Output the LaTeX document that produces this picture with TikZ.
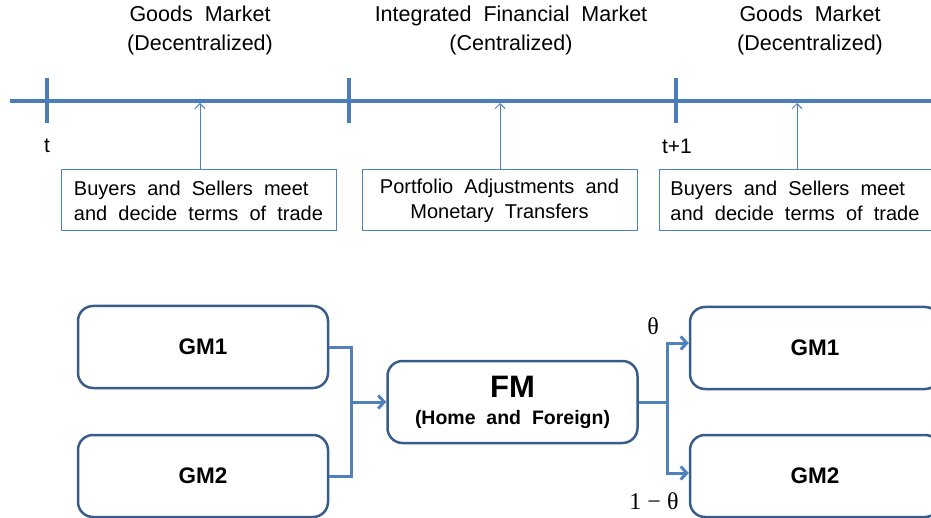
\documentclass[tikz,border=0pt]{standalone}
\usepackage{fontspec}
\setmainfont[WordSpace=2]{Liberation Sans}
\newfontfamily\grfont{Liberation Serif}
\usetikzlibrary{arrows.meta}
\definecolor{lineblue}{HTML}{4A7EBB}
\definecolor{boxblue}{HTML}{385D8A}
\definecolor{linkblue}{HTML}{4F81BD}

\tikzset{
  timetick/.style={draw=lineblue,line width=4pt},
  notebox/.style={draw=linkblue,line width=1pt,minimum height=61pt,align=center,
    font=\fontsize{20}{25}\selectfont,inner sep=0pt},
  mktbox/.style={draw=boxblue,line width=2.5pt,rounded corners=15pt,minimum width=250pt,
    minimum height=82pt,align=center,font=\bfseries\fontsize{22.5}{25}\selectfont},
  thinarrow/.style={draw=linkblue,line width=1pt,-{Straight Barb[length=5pt,width=10pt]}},
  link/.style={draw=linkblue,line width=3pt},
}

\begin{document}
\begin{tikzpicture}[x=1pt,y=-1pt]
      \clip (0,0) rectangle (931,518);

      \node[align=center,font=\fontsize{21.5}{29}\selectfont] (hdr1) at (200,30) {Goods Market\\(Decentralized)};
      \node[align=center,font=\fontsize{21.5}{29}\selectfont] (hdr2) at (511,30) {Integrated Financial Market\\(Centralized)};
      \node[align=center,font=\fontsize{21.5}{29}\selectfont] (hdr3) at (810,30) {Goods Market\\(Decentralized)};

      \draw[timetick] (10,101) -- (931,101);
      \foreach \x in {47,349,676}
        \draw[timetick] (\x,78) -- (\x,123);
      \node[font=\fontsize{21}{24}\selectfont] (tnow) at (47,146) {t};
      \node[font=\fontsize{21}{24}\selectfont] (tnext) at (677,146) {t+1};

      \coordinate (m1) at (200,103);
      \coordinate (m2) at (500,103);
      \coordinate (m3) at (797,103);
      \node[notebox,align=left,minimum width=275pt] (note1) at (198.5,200.5) {Buyers and Sellers meet\\and decide terms of trade};
      \node[notebox,minimum width=275pt] (note2) at (499.5,200.5) {Portfolio Adjustments and\\Monetary Transfers};
      \node[notebox,align=left,minimum width=272pt] (note3) at (795,200.5) {Buyers and Sellers meet\\and decide terms of trade};
      \draw[thinarrow] (note1.north -| m1) -- (m1);
      \draw[thinarrow] (note2.north -| m2) -- (m2);
      \draw[thinarrow] (note3.north -| m3) -- (m3);

      \node[mktbox] (gml1) at (203,347) {GM1};
      \node[mktbox] (gml2) at (203,476) {GM2};
      \node[mktbox] (fm) at (512.5,402) {\fontsize{31}{34}\selectfont FM\\[2pt]\fontsize{19.5}{22}\selectfont (Home and Foreign)};
      \node[mktbox] (gmr1) at (815,348) {GM1};
      \node[mktbox] (gmr2) at (815,476) {GM2};

      \coordinate (jl) at (351,402);
      \coordinate (jr) at (667,402);
      \draw[link] (gml1.east) -| (jl) |- (gml2.east);
      \draw[link,-{Straight Barb[length=6pt,width=13pt]}] (jl) -- (fm.west);
      \draw[link] (fm.east) -- (jr);
      \draw[link,-{Straight Barb[length=6pt,width=13pt]}] (jr) |- ([yshift=5pt]gmr1.west);
      \draw[link,-{Straight Barb[length=6pt,width=13pt]}] (jr) |- ([yshift=3pt]gmr2.west);

      \node[font=\grfont\fontsize{24}{26}\selectfont] (theta) at (653,326) {θ};
      \node[font=\grfont\fontsize{24}{26}\selectfont] (rest) at (654,501) {1 − θ};
    \end{tikzpicture}
\end{document}
